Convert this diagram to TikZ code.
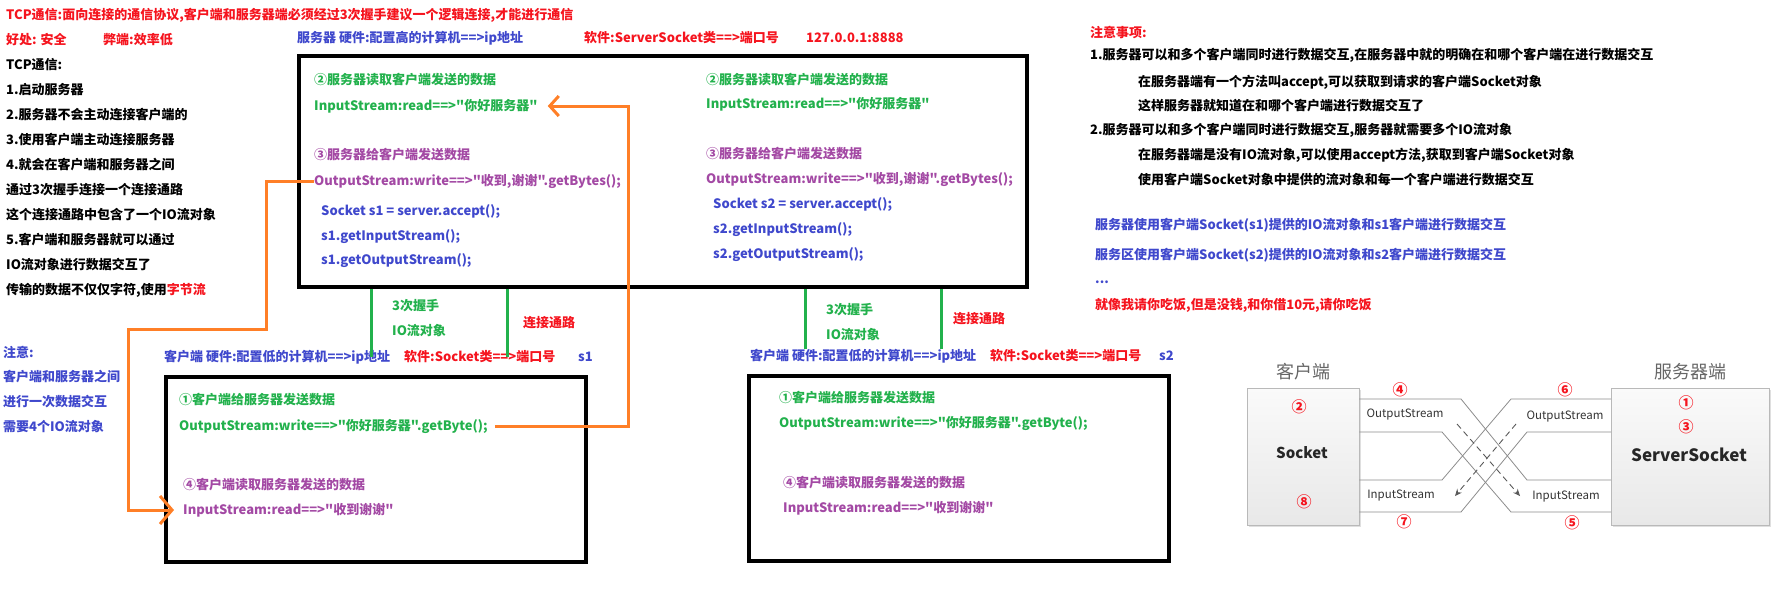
\documentclass[tikz,border=0pt]{standalone}
\usepackage{fontspec}
\setmainfont{Noto Sans CJK SC}[Ligatures=TeXOff]
\usetikzlibrary{positioning}
\usetikzlibrary{calc}
\usetikzlibrary{arrows.meta}
\usetikzlibrary{shadows}
\definecolor{pred}{RGB}{245,20,30}
\definecolor{pblue}{RGB}{63,72,204}
\definecolor{pgreen}{RGB}{34,177,76}
\definecolor{ppurple}{RGB}{163,73,164}
\definecolor{porange}{RGB}{255,127,39}
\definecolor{pgray}{RGB}{140,140,140}
\tikzset{
    note/.style = {anchor=west, inner sep=0pt, font=\fontsize{13pt}{13pt}\selectfont\bfseries},
    rednote/.style = {note, text=pred},
    bluenote/.style = {note, text=pblue},
    greennote/.style = {note, text=pgreen},
    purplenote/.style = {note, text=ppurple},
    codebox/.style = {rectangle, draw, line width=4pt, anchor=north west, inner sep=0pt},
    wire/.style = {draw=pgreen, line width=3pt},
    link/.style = {draw=porange, line width=3pt, -{Straight Barb[length=9pt,width=20pt]}},
    endbox/.style = {rectangle, draw=gray!55, top color=gray!4, bottom color=gray!18, anchor=north west, inner sep=0pt,
        drop shadow={opacity=0.25, shadow xshift=2pt, shadow yshift=-2pt}},
    endlabel/.style = {text=black!60, font=\fontsize{18pt}{18pt}\selectfont},
    stream/.style = {draw=pgray, line width=0.8pt},
    flow/.style = {draw=black!65, line width=0.9pt, dash pattern=on 6pt off 4pt, -{Stealth[length=7pt,width=6pt]}},
    num/.style = {text=pred, font=\fontsize{15pt}{15pt}\selectfont\bfseries, inner sep=0pt},
    streamname/.style = {text=black!80, font=\fontsize{11.5pt}{12pt}\selectfont, inner sep=0pt}}
\begin{document}
\begin{tikzpicture}[x=1pt, y=-1pt]
    \useasboundingbox (0,0) rectangle (1788,592);
    % left notes
    \path (6,15) node[rednote] (title) {TCP通信:面向连接的通信协议,客户端和服务器端必须经过3次握手建议一个逻辑连接,才能进行通信}
     ++ (0,25) node[rednote] (good) {好处: 安全}
     ++ (0,25) node[note] (tcp) {TCP通信:}
     ++ (0,25) node[note] (step1) {1.启动服务器}
     ++ (0,25) node[note] (step2) {2.服务器不会主动连接客户端的}
     ++ (0,25) node[note] (step3) {3.使用客户端主动连接服务器}
     ++ (0,25) node[note] (step4) {4.就会在客户端和服务器之间}
     ++ (0,25) node[note] (step4a) {通过3次握手连接一个连接通路}
     ++ (0,25) node[note] (step4b) {这个连接通路中包含了一个IO流对象}
     ++ (0,25) node[note] (step5) {5.客户端和服务器就可以通过}
     ++ (0,25) node[note] (step5a) {IO流对象进行数据交互了}
     ++ (0,25) node[note] (step5b) {传输的数据不仅仅字符,使用\textcolor{pred}{字节流}};
    \node[rednote] (bad) at (103,40) {弊端:效率低};
    \path (3,352) node[bluenote] (attn) {注意:}
     ++ (0,25) node[bluenote] (attn1) {客户端和服务器之间}
     ++ (0,25) node[bluenote] (attn2) {进行一次数据交互}
     ++ (0,25) node[bluenote] (attn3) {需要4个IO流对象};
    % server
    \node[bluenote] (srvhw) at (297,38) {服务器 硬件:配置高的计算机==>ip地址};
    \node[rednote] (srvsw) at (584,38) {软件:ServerSocket类==>端口号};
    \node[rednote] (srvip) at (806,38) {127.0.0.1:8888};
    \node[codebox, minimum width=728pt, minimum height=231pt] (server) at (297,54) {};
    \path (314,80) node[greennote] (sread1) {②服务器读取客户端发送的数据}
     ++ (0,26) node[greennote] (sin1) {InputStream:read==>"你好服务器"}
     ++ (0,49) node[purplenote] (swrite1) {③服务器给客户端发送数据}
     ++ (0,26) node[purplenote] (sout1) {OutputStream:write==>"收到,谢谢".getBytes();};
    \path (321,212) node[bluenote] (acc1) {Socket s1 = server.accept();}
     ++ (0,25) node[bluenote] (gin1) {s1.getInputStream();}
     ++ (0,24) node[bluenote] (gout1) {s1.getOutputStream();};
    \path (706,80) node[greennote] (sread2) {②服务器读取客户端发送的数据}
     ++ (0,24) node[greennote] (sin2) {InputStream:read==>"你好服务器"}
     ++ (0,50) node[purplenote] (swrite2) {③服务器给客户端发送数据}
     ++ (0,25) node[purplenote] (sout2) {OutputStream:write==>"收到,谢谢".getBytes();};
    \path (713,205) node[bluenote] (acc2) {Socket s2 = server.accept();}
     ++ (0,25) node[bluenote] (gin2) {s2.getInputStream();}
     ++ (0,25) node[bluenote] (gout2) {s2.getOutputStream();};
    % handshake
    \path (392,306) node[greennote] (hand1) {3次握手}
     ++ (0,25) node[greennote] (io1) {IO流对象};
    \node[rednote] (chan1) at (523,323) {连接通路};
    \path (826,310) node[greennote] (hand2) {3次握手}
     ++ (0,25) node[greennote] (io2) {IO流对象};
    \node[rednote] (chan2) at (953,319) {连接通路};
    % clients
    \node[bluenote] (c1hw) at (164,357) {客户端 硬件:配置低的计算机==>ip地址};
    \node[rednote] (c1sw) at (404,357) {软件:Socket类==>端口号};
    \node[bluenote] (c1id) at (578,357) {s1};
    \node[codebox, minimum width=420pt, minimum height=185pt] (client1) at (164,375) {};
    \path (179,400) node[greennote] (c1send) {①客户端给服务器发送数据}
     ++ (0,26) node[greennote] (c1out) {OutputStream:write==>"你好服务器".getByte();};
    \path (183,485) node[purplenote] (c1read) {④客户端读取服务器发送的数据}
     ++ (0,25) node[purplenote] (c1in) {InputStream:read==>"收到谢谢"};
    \node[bluenote] (c2hw) at (750,356) {客户端 硬件:配置低的计算机==>ip地址};
    \node[rednote] (c2sw) at (990,356) {软件:Socket类==>端口号};
    \node[bluenote] (c2id) at (1159,356) {s2};
    \node[codebox, minimum width=420pt, minimum height=185pt] (client2) at (747,374) {};
    \path (779,398) node[greennote] (c2send) {①客户端给服务器发送数据}
     ++ (0,25) node[greennote] (c2out) {OutputStream:write==>"你好服务器".getByte();};
    \path (783,483) node[purplenote] (c2read) {④客户端读取服务器发送的数据}
     ++ (0,25) node[purplenote] (c2in) {InputStream:read==>"收到谢谢"};
    \draw[wire] (server.south -| 371,0) -- (c1hw.center -| 371,0);
    \draw[wire] (server.south -| 507,0) -- (c1hw.center -| 507,0);
    \draw[wire] (server.south -| 805,0) -- (c2hw.north -| 805,0);
    \draw[wire] (server.south -| 941,0) -- (c2hw.north -| 941,0);
    \draw[link] (c1out.east) ++ (7,0) -| (sin1.east -| 628,0) -- ($(sin1.east)+(10,0)$);
    \draw[link, -{Straight Barb[length=12pt,width=28pt]}] (sout1.west) -| (266,329) -| (c1in.west -| 128,0) -- ($(c1in.west)+(-9,0)$);
    % notes on the right
    \path (1090,32) node[rednote] (rule) {注意事项:}
     ++ (0,23) node[note] (rule1) {1.服务器可以和多个客户端同时进行数据交互,在服务器中就的明确在和哪个客户端在进行数据交互}
     ++ (48,27) node[note] (rule1a) {在服务器端有一个方法叫accept,可以获取到请求的客户端Socket对象}
     ++ (0,24) node[note] (rule1b) {这样服务器就知道在和哪个客户端进行数据交互了}
     ++ (-48,24) node[note] (rule2) {2.服务器可以和多个客户端同时进行数据交互,服务器就需要多个IO流对象}
     ++ (48,25) node[note] (rule2a) {在服务器端是没有IO流对象,可以使用accept方法,获取到客户端Socket对象}
     ++ (0,25) node[note] (rule2b) {使用客户端Socket对象中提供的流对象和每一个客户端进行数据交互};
    \path (1095,225) node[bluenote] (use1) {服务器使用客户端Socket(s1)提供的IO流对象和s1客户端进行数据交互}
     ++ (0,30) node[bluenote] (use2) {服务区使用客户端Socket(s2)提供的IO流对象和s2客户端进行数据交互}
     ++ (0,27) node[bluenote] (more) {...}
     ++ (0,23) node[rednote] (dinner) {就像我请你吃饭,但是没钱,和你借10元,请你吃饭};
    % socket picture
    \node[endbox, minimum width=112pt, minimum height=137pt] (sock) at (1247,388) {};
    \node[endbox, minimum width=158pt, minimum height=137pt] (ssock) at (1611,388) {};
    \node[endlabel, above=4pt of sock] (clientname) {客户端};
    \node[endlabel, above=4pt of ssock] (servername) {服务器端};
    \draw[stream] (sock.east |- 0,399) -- (1461,399) -- (1527,480) -- (ssock.west |- 0,480);
    \draw[stream] (sock.east |- 0,432) -- (1442,432) -- (1511,512) -- (ssock.west |- 0,512);
    \draw[stream] (ssock.west |- 0,399) -- (1511,399) -- (1442,480) -- (sock.east |- 0,480);
    \draw[stream] (ssock.west |- 0,432) -- (1527,432) -- (1461,512) -- (sock.east |- 0,512);
    \draw[flow] (1457,424) -- (1520,496);
    \draw[flow] (1516,424) -- (1455,496);
    \node[num] (n2) at (1299,407) {②};
    \node[text=black!85, font=\fontsize{15pt}{15pt}\selectfont\bfseries] (sockname) at (1302,453) {Socket};
    \node[num] (n8) at (1304,502) {⑧};
    \node[num] (n1) at (1686,403) {①};
    \node[num] (n3) at (1686,427) {③};
    \node[text=black!85, font=\fontsize{17pt}{17pt}\selectfont\bfseries] (ssockname) at (1689,455) {ServerSocket};
    \node[num] (n4) at (1400,390) {④};
    \node[num] (n7) at (1404,522) {⑦};
    \node[num] (n6) at (1565,390) {⑥};
    \node[num] (n5) at (1572,523) {⑤};
    \node[streamname] (cout) at (1405,415) {OutputStream};
    \node[streamname] (cin) at (1401,496) {InputStream};
    \node[streamname] (sout) at (1565,417) {OutputStream};
    \node[streamname] (sin) at (1566,497) {InputStream};
\end{tikzpicture}
\end{document}
